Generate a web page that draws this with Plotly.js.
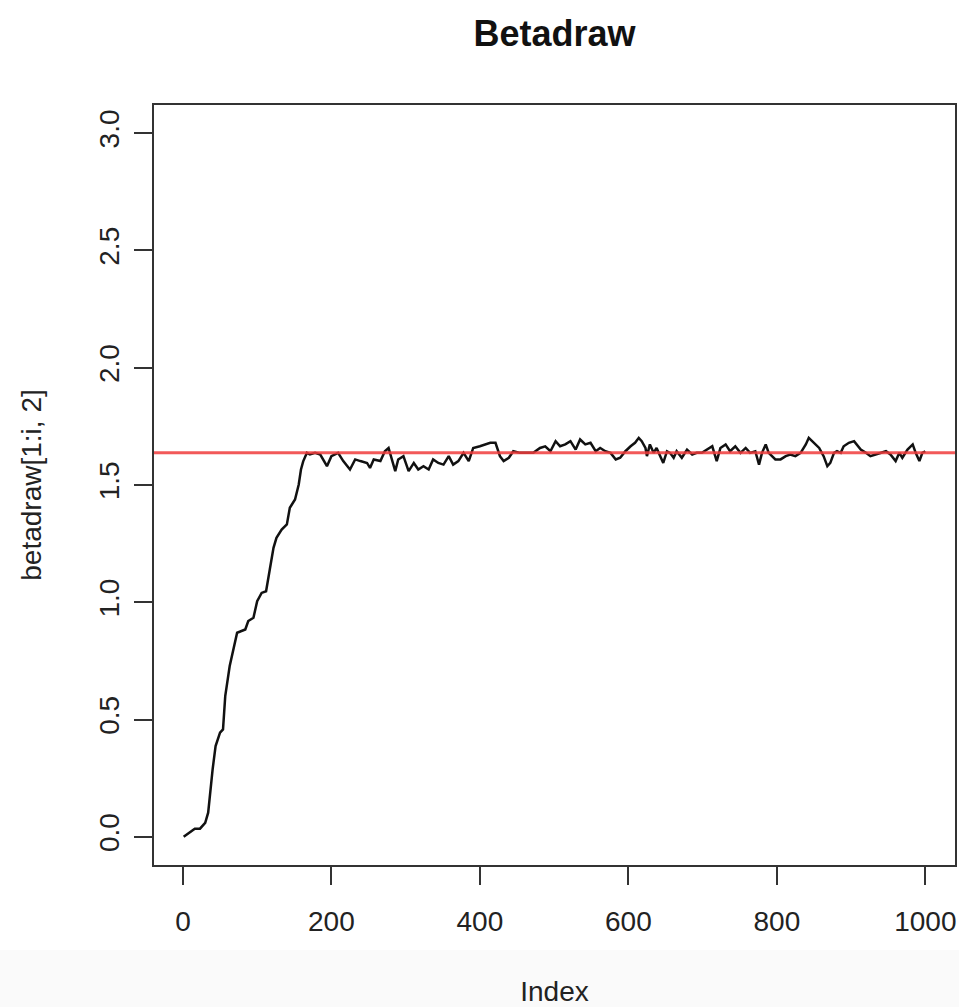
<!DOCTYPE html>
<html>
<head>
<meta charset="utf-8">
<script src="https://cdn.plot.ly/plotly-3.0.1.min.js"></script>
<style>html,body{margin:0;padding:0;background:#fff;}#chart{width:959px;height:1007px;}</style>
</head>
<body>
<div id="chart"></div>
<script>
var drawIndex = [1,9,16,23,30,34,36,40,44,50,54,57,63,73,84,88,95,100,106,112,117,122,126,133,140,144,151,156,159,162,167,
  171,178,185,194,200,209,216,225,232,239,248,252,257,266,272,277,281,286,290,297,304,311,317,324,331,337,344,351,358,364,371,378,385,391,400,407,414,421,427,432,439,445,454,463,472,481,488,495,502,508,515,522,529,535,542,549,556,562,569,576,583,589,
  596,603,609,614,618,623,625,629,634,638,643,647,652,656,661,665,672,679,686,692,699,706,713,719,724,731,737,744,751,758,764,771,776,780,785,789,794,798,805,812,818,825,832,839,843,850,857,863,868,872,877,881,886,890,897,904,908,913,920,926,933,940,947,953,960,965,969,976,983,987,992,996,1000];
// betadraw[1:i, 2] values at those indices
var betaDraw = [0.000,0.018,0.035,0.035,0.060,0.103,0.174,0.288,0.387,0.444,0.458,0.600,0.728,0.870,0.884,0.920,0.934,1.005,1.040,1.047,1.140,1.232,1.275,1.310,1.332,1.403,1.438,1.502,1.566,1.601,1.637,
  1.630,1.637,1.630,1.580,1.623,1.637,1.602,1.566,1.609,1.602,1.594,1.573,1.609,1.602,1.644,1.658,1.609,1.559,1.609,1.623,1.559,1.594,1.566,1.580,1.566,1.609,1.594,1.587,1.623,1.587,1.602,1.637,1.602,1.658,1.665,1.673,1.680,1.680,1.623,1.602,1.616,1.644,1.637,1.637,1.637,1.658,1.665,1.644,1.687,1.665,1.673,1.687,1.651,1.694,1.673,1.680,1.644,1.658,1.644,1.637,1.609,1.616,
  1.644,1.665,1.680,1.701,1.687,1.658,1.623,1.673,1.637,1.658,1.623,1.594,1.644,1.637,1.616,1.644,1.616,1.651,1.630,1.637,1.637,1.651,1.665,1.602,1.658,1.673,1.644,1.665,1.637,1.658,1.637,1.644,1.587,1.637,1.673,1.637,1.623,1.609,1.609,1.623,1.630,1.623,1.637,1.673,1.701,1.680,1.658,1.623,1.580,1.594,1.637,1.644,1.637,1.665,1.680,1.687,1.673,1.651,1.637,1.623,1.630,1.637,1.644,1.630,1.602,1.637,1.616,1.651,1.673,1.637,1.602,1.637,1.644];
// reference (true) value drawn as the red horizontal line
var trueBeta = 1.637;
var xTicks = [0,200,400,600,800,1000];
var yTicks = [0,0.5,1,1.5,2,2.5,3];
var yTickText = ["0.0","0.5","1.0","1.5","2.0","2.5","3.0"];

var FONT = 'Liberation Sans, Arial, Helvetica, sans-serif';

var traces = [{
  x: drawIndex, y: betaDraw, type: 'scatter', mode: 'lines',
  line: {color: '#111111', width: 2.5}, hoverinfo: 'x+y', showlegend: false
}];

var layout = {
  width: 959, height: 1007,
  margin: {l: 154, r: 4, t: 105, b: 142, pad: 0},
  paper_bgcolor: '#ffffff', plot_bgcolor: '#ffffff',
  showlegend: false,
  title: {text: '<b>Betadraw</b>', font: {family: FONT, size: 36, color: '#111'},
          x: 0.5, xanchor: 'center', xref: 'paper', y: 0.967, yanchor: 'middle', yref: 'container'},
  xaxis: {
    range: [-38.96, 1039.96], tickvals: xTicks, ticks: 'outside', ticklen: 18, tickwidth: 2, tickcolor: '#333',
    showgrid: false, zeroline: false, showline: true, mirror: true, linecolor: '#333', linewidth: 2,
    tickfont: {family: FONT, size: 28, color: '#222'}, ticklabelstandoff: 12,
    title: {text: 'Index', font: {family: FONT, size: 28, color: '#222'}, standoff: 49}
  },
  yaxis: {
    range: [-0.12, 3.12], tickvals: yTicks, ticktext: yTickText, ticks: 'outside', ticklen: 18, tickwidth: 2, tickcolor: '#333',
    showgrid: false, zeroline: false, showline: true, mirror: true, linecolor: '#333', linewidth: 2,
    tickangle: -90, tickfont: {family: FONT, size: 28, color: '#222'}, ticklabelstandoff: 4,
    title: {text: 'betadraw[1:i, 2]', font: {family: FONT, size: 28, color: '#222'}, standoff: 44}
  },
  shapes: [
    {type: 'rect', xref: 'paper', yref: 'paper', x0: -0.2, x1: 1.01, y0: (865-950)/760, y1: (865-1010)/760,
     fillcolor: '#fafafa', line: {width: 0}, layer: 'below'},
    {type: 'line', xref: 'paper', yref: 'y', x0: 0, x1: 1, y0: trueBeta, y1: trueBeta,
     line: {color: 'rgba(240,60,60,0.85)', width: 3}}
  ]
};

Plotly.newPlot('chart', traces, layout, {displayModeBar: false, staticPlot: true});
</script>
</body>
</html>
